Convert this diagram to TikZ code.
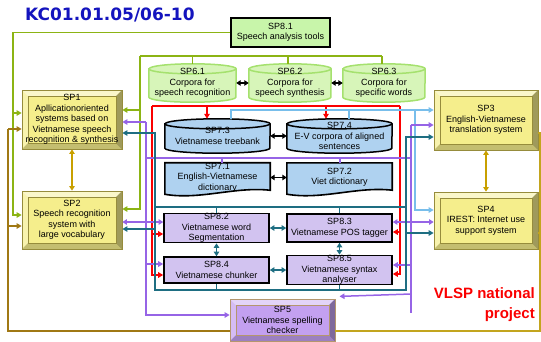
\documentclass[tikz,border=0pt]{standalone}
\usepackage{fontspec}
\setmainfont{Liberation Sans}
\newfontfamily\titlefont{DejaVu Sans}
\usetikzlibrary{arrows.meta,backgrounds}

\definecolor{titleblue}{RGB}{20,20,190}
\definecolor{sagreen}{RGB}{140,180,20}
\definecolor{sabrown}{RGB}{160,120,20}
\definecolor{sagold}{RGB}{200,160,0}
\definecolor{sagoldline}{RGB}{195,165,30}
\definecolor{vred}{RGB}{250,0,0}
\definecolor{vsky}{RGB}{120,190,235}
\definecolor{vpurple}{RGB}{150,100,230}
\definecolor{vteal}{RGB}{30,110,130}
\definecolor{sayellow}{RGB}{245,238,140}
\definecolor{saolive}{RGB}{150,140,60}
\definecolor{spfive}{RGB}{195,160,240}
\definecolor{spfiveedge}{RGB}{180,150,110}
\definecolor{speightbox}{RGB}{210,195,240}
\definecolor{spsevbox}{RGB}{175,210,240}
\definecolor{spsixbox}{RGB}{215,245,185}
\definecolor{spsixedge}{RGB}{165,225,110}
\definecolor{spanalysis}{RGB}{200,245,170}

\tikzset{
  wire/.style={line width=1.5pt},
  arr/.style={wire,-{Triangle[length=5pt,width=5.5pt]}},
  darr/.style={wire,{Triangle[length=4.5pt,width=5.5pt]}-{Triangle[length=4.5pt,width=5.5pt]}},
  box/.style={draw=black,line width=1.6pt,fill=#1,inner sep=0pt,align=center},
  txtbox/.style={inner sep=0pt,align=center},
  bevel/.style 2 args={fill=#1,draw=#2,line width=.8pt,inner sep=0pt,align=center,
    path picture={
      \fill[white,opacity=.55] (path picture bounding box.north west) -- (path picture bounding box.north east) -- ([shift={(-6pt,-6pt)}]path picture bounding box.north east) -- ([shift={(6pt,-6pt)}]path picture bounding box.north west) -- cycle;
      \fill[white,opacity=.3] (path picture bounding box.north west) -- ([shift={(6pt,-6pt)}]path picture bounding box.north west) -- ([shift={(6pt,6pt)}]path picture bounding box.south west) -- (path picture bounding box.south west) -- cycle;
      \fill[black,opacity=.35] (path picture bounding box.north east) -- ([shift={(-6pt,-6pt)}]path picture bounding box.north east) -- ([shift={(-6pt,6pt)}]path picture bounding box.south east) -- (path picture bounding box.south east) -- cycle;
      \fill[black,opacity=.2] (path picture bounding box.south west) -- ([shift={(6pt,6pt)}]path picture bounding box.south west) -- ([shift={(-6pt,6pt)}]path picture bounding box.south east) -- (path picture bounding box.south east) -- cycle;
      \draw[#2,line width=.5pt] ([shift={(6pt,-6pt)}]path picture bounding box.north west) rectangle ([shift={(-6pt,6pt)}]path picture bounding box.south east);
    }},
}

% cylinder round a node: name, fill, edge, half width
\newcommand{\cyl}[4]{%
  \draw[fill=#2,draw=#3,line width=1.5pt] ([yshift=-5pt]#1.north west) -- ([yshift=5pt]#1.south west)
    arc[start angle=180,end angle=360,x radius=#4pt,y radius=5pt] -- ([yshift=-5pt]#1.north east)
    arc[start angle=0,end angle=180,x radius=#4pt,y radius=5pt] -- cycle;
  \draw[draw=#3,line width=1.5pt] ([yshift=-5pt]#1.north west) arc[start angle=180,end angle=360,x radius=#4pt,y radius=5pt];}
% document shape round a node
\newcommand{\docshape}[1]{%
  \draw[fill=spsevbox,line width=1.6pt] (#1.north west) -- ([yshift=-2pt]#1.south west)
    .. controls ([xshift=35pt,yshift=-8pt]#1.south west) and ([xshift=-35pt,yshift=6pt]#1.south east) .. ([yshift=2pt]#1.south east)
    -- (#1.north east) -- cycle;}

\begin{document}
\begin{tikzpicture}[x=1pt,y=-1pt,font=\fontsize{9}{10.5}\selectfont]
\useasboundingbox (0,0) rectangle (541,341);

\node[anchor=west,inner sep=0pt,text=titleblue,font=\titlefont\bfseries\fontsize{17}{20}\selectfont] (kc) at (25,15) {KC01.01.05/06-10};

\node[box=spanalysis,minimum width=99pt,minimum height=29pt] (sp81) at (280.5,32.5) {SP8.1\\Speech analysis tools};

\node[txtbox,minimum width=87pt,minimum height=38pt] (sp61) at (192.5,83) {SP6.1\\Corpora for\\speech recognition};
\node[txtbox,minimum width=82pt,minimum height=38pt] (sp62) at (290,83) {SP6.2\\Corpora for\\speech synthesis};
\node[txtbox,minimum width=82pt,minimum height=38pt] (sp63) at (384,83) {SP6.3\\Corpora for\\specific words};

\node[txtbox,minimum width=105pt,minimum height=34pt] (sp73) at (217.5,136) {SP7.3\\Vietnamese treebank};
\node[txtbox,minimum width=105pt,minimum height=34pt] (sp74) at (339.5,136) {SP7.4\\E-V corpora of aligned\\sentences};
\node[txtbox,minimum width=105pt,minimum height=29pt] (sp71) at (217.5,177.5) {SP7.1\\English-Vietnamese\\dictionary};
\node[txtbox,minimum width=105pt,minimum height=29pt] (sp72) at (339.5,177.5) {SP7.2\\Viet dictionary};

\node[box=speightbox,minimum width=105pt,minimum height=28pt] (sp82) at (216.5,228) {SP8.2\\Vietnamese word\\Segmentation};
\node[box=speightbox,minimum width=105pt,minimum height=28pt] (sp83) at (339.5,228) {SP8.3\\Vietnamese POS tagger};
\node[box=speightbox,minimum width=105pt,minimum height=26pt] (sp84) at (216.5,270) {SP8.4\\Vietnamese chunker};
\node[box=speightbox,minimum width=105pt,minimum height=26pt] (sp85) at (339.5,270) {SP8.5\\Vietnamese syntax\\analyser};

\node[bevel={sayellow}{saolive},minimum width=100pt,minimum height=59pt] (sp1) at (72,119.5) {SP1\\Apllicationoriented\\systems based on\\Vietnamese speech\\recognition \& synthesis};
\node[bevel={sayellow}{saolive},minimum width=100pt,minimum height=58pt] (sp2) at (72,220) {SP2\\Speech recognition\\system with\\large vocabulary};
\node[bevel={sayellow}{saolive},minimum width=104pt,minimum height=60pt] (sp3) at (486,120) {SP3\\English-Vietnamese\\translation system};
\node[bevel={sayellow}{saolive},minimum width=104pt,minimum height=57pt] (sp4) at (486,220.5) {SP4\\IREST: Internet use\\support system};
\node[bevel={spfive}{spfiveedge},minimum width=105pt,minimum height=42pt] (sp5) at (282.5,320) {SP5\\Vietnamese spelling\\checker};

\node[anchor=north east,inner sep=0pt,align=right,text=vred,font=\bfseries\fontsize{15}{20}\selectfont] (vlsp) at (535,287) {VLSP national\\project};

\begin{scope}[on background layer]
  \cyl{sp61}{spsixbox}{spsixedge}{43.5}
  \cyl{sp62}{spsixbox}{spsixedge}{41}
  \cyl{sp63}{spsixbox}{spsixedge}{41}
  \cyl{sp73}{spsevbox}{black}{52.5}
  \cyl{sp74}{spsevbox}{black}{52.5}
  \docshape{sp71}
  \docshape{sp72}
\end{scope}

% speech analysis tools
\draw[arr,sagreen] (sp81.west) -- (13,32.5) -- (13,215) -- ([yshift=5pt]sp2.west);
\draw[arr,sagreen] (13,113) -- ([yshift=6.5pt]sp1.west);
% speech corpora
\draw[wire,sagreen] (140,56) -- (382,56);
\draw[wire,sagreen] (192.5,56) -- (sp61.north);
\draw[wire,sagreen] (288,56) -- ([xshift=-2pt]sp62.north);
\draw[wire,sagreen] (382,56) -- ([xshift=-2pt]sp63.north);
\draw[arr,sagreen] (140,56) -- (140,209) -- ([yshift=11pt]sp2.east);
\draw[arr,sagreen] (140,110) -- ([yshift=9.5pt]sp1.east);

% outer loop
\draw[arr,sabrown] (8,129) -- ([yshift=-9.5pt]sp1.west);
\draw[arr,sabrown] (8,226) -- ([yshift=-6pt]sp2.west);
\draw[wire,sabrown] (8,129) -- (8,331) -- ([yshift=-11pt]sp5.west);
\draw[wire,sagoldline] ([yshift=-11pt]sp5.east) -- (540,331) -- (540,133) -- ([yshift=-13pt]sp3.east);
\draw[wire,sagoldline] (540,233) -- ([yshift=-12.5pt]sp4.east);

\draw[darr,sagold] (sp1.south) -- (sp2.north);
\draw[darr,sagold] (sp3.south) -- (sp4.north);

\draw[darr] (sp61.east) -- (sp62.west);
\draw[darr] (sp62.east) -- (sp63.west);
\draw[darr] (sp73.east) -- (sp74.west);
\draw[darr] (sp71.east) -- (sp72.west);

% red frame
\draw[wire,vred] (152,106) -- (400,106);
\draw[arr,vred] (152,106) -- (152,275) -- ([yshift=-5pt]sp84.west);
\draw[arr,vred] (152,234) -- ([yshift=-6pt]sp82.west);
\draw[arr,vred] (400,106) -- (400,274) -- ([yshift=-4pt]sp85.east);
\draw[arr,vred] (400,232) -- ([yshift=-4pt]sp83.east);
\draw[arr,vred] (207,106) -- ([xshift=-10.5pt]sp73.north);
\draw[arr,vred] (326,106) -- ([xshift=-13.5pt]sp74.north);

% corpora to translation
\draw[arr,vsky] ([xshift=13.5pt]sp73.north) -- (231,110) -- ([yshift=10pt]sp3.west);
\draw[wire,vsky] (349,110) -- ([xshift=9.5pt]sp74.north);
\draw[arr,vsky] (415,110) -- (415,210) -- ([yshift=10.5pt]sp4.west);

% dictionaries
\draw[arr,vpurple] (146,122) -- ([yshift=-2.5pt]sp1.east);
\draw[arr,vpurple] (146,122) -- (146,315) -- ([yshift=5pt]sp5.west);
\draw[wire,vpurple] (146,158) -- (411,158);
\draw[wire,vpurple] (222,158) -- ([xshift=4.5pt]sp71.north);
\draw[wire,vpurple] (340,158) -- ([xshift=.5pt]sp72.north);
\draw[darr,vpurple] ([yshift=-2pt]sp2.east) -- ([yshift=6pt]sp82.west);
\draw[arr,vpurple] (146,264) -- ([yshift=6pt]sp84.west);
\draw[arr,vpurple] (411,125) -- ([yshift=-5pt]sp3.west);
\draw[wire,vpurple] (411,125) -- (411,313);
\draw[darr,vpurple] ([yshift=6pt]sp83.east) -- ([yshift=-1.5pt]sp4.west);
\draw[arr,vpurple] (411,265) -- ([yshift=5pt]sp85.east);
\draw[arr,vpurple] (411,294) -- ([yshift=-11pt]sp85.south);

% language tools
\draw[wire,vteal] (155,207) rectangle (406,290);
\draw[arr,vteal] (155,207) -- (155,133) -- ([yshift=-13.5pt]sp1.east);
\draw[arr,vteal] (155,229) -- ([yshift=-9pt]sp2.east);
\draw[arr,vteal] (406,207) -- (406,137) -- ([yshift=-17pt]sp3.west);
\draw[arr,vteal] (406,233) -- ([yshift=-12.5pt]sp4.west);
\draw[wire,vteal] (216.5,207) -- (sp82.north);
\draw[wire,vteal] (339.5,207) -- (sp83.north);
\draw[wire,vteal] (216.5,290) -- (sp84.south);
\draw[wire,vteal] (339.5,290) -- (sp85.south);
\draw[darr,vteal] (sp82.east) -- (sp83.west);
\draw[darr,vteal] (sp84.east) -- (sp85.west);
\draw[darr,vteal] (sp82.south) -- (sp84.north);
\draw[darr,vteal] (sp83.south) -- (sp85.north);
\end{tikzpicture}
\end{document}
